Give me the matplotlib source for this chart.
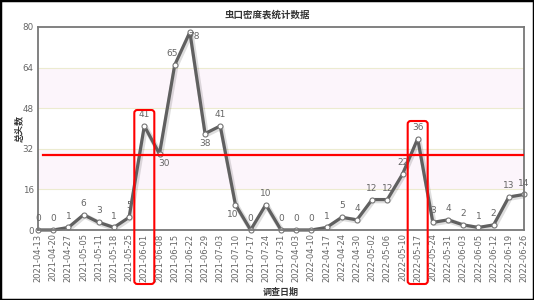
import matplotlib
matplotlib.use("Agg")
import matplotlib.pyplot as plt
import matplotlib.transforms as mtransforms
from matplotlib.patches import FancyBboxPatch, Rectangle

plt.rcParams['font.family'] = ['DejaVu Sans', 'Noto Sans CJK SC']

dates = ["2021-04-13", "2021-04-20", "2021-04-27", "2021-05-05", "2021-05-11", "2021-05-18",
         "2021-05-25", "2021-06-01", "2021-06-08", "2021-06-15", "2021-06-22", "2021-06-29",
         "2021-07-03", "2021-07-10", "2021-07-17", "2021-07-24", "2021-07-31", "2022-04-03",
         "2022-04-10", "2022-04-17", "2022-04-24", "2022-04-30", "2022-05-02", "2022-05-06",
         "2022-05-10", "2022-05-17", "2022-05-24", "2022-05-31", "2022-06-03", "2022-06-05",
         "2022-06-12", "2022-06-19", "2022-06-26"]
values = [0, 0, 1, 6, 3, 1, 5, 41, 30, 65, 78, 38, 41, 10, 0, 10, 0, 0,
          0, 1, 5, 4, 12, 12, 22, 36, 3, 4, 2, 1, 2, 13, 14]
y_ticks = [0, 16, 32, 48, 64, 80]
threshold = 29.5
highlight_idx = [7, 25]

title = "虫口密度表统计数据"
y_label = "总头数"
x_label = "调查日期"

W, H = 534, 300
fig = plt.figure(figsize=(W / 100, H / 100), dpi=100)
ax = fig.add_axes([38 / W, 1 - 230 / H, (524 - 38) / W, (230 - 27) / H])

x = list(range(len(values)))
ax.set_xlim(0, len(values) - 1)
ax.set_ylim(0, 80)

# bands and grid
for lo, hi in [(16, 32), (48, 64)]:
    ax.axhspan(lo, hi, color='#fcf5fb', zorder=0, lw=0)
for t in y_ticks[1:-1]:
    ax.axhline(t, color='#ecebd0', lw=0.8, zorder=0.5)

# shadow
shadow_tr = ax.transData + mtransforms.ScaledTranslation(0.8 / 72, -0.8 / 72, fig.dpi_scale_trans)
ax.plot(x, values, color='#000000', alpha=0.13, lw=3.8, zorder=1,
        solid_joinstyle='round', transform=shadow_tr)
ax.plot(x, values, color='#606060', lw=2.3, zorder=2, solid_joinstyle='round',
        marker='o', markersize=3.6, markerfacecolor='white', markeredgecolor='#777777',
        markeredgewidth=0.8, clip_on=False)

# data labels
offsets = {8: (3, -9), 11: (0, -9), 13: (-2, -9), 10: (3, -5), 9: (-2, 5)}
for i, v in enumerate(values):
    dx, dy = offsets.get(i, (0, 5))
    va = 'bottom' if dy > 0 else 'top'
    ax.annotate(str(v), (i, v), xytext=(dx, dy if dy > 0 else dy + 5), textcoords='offset points',
                ha='center', va=va, fontsize=6.5, color='#666666', zorder=3,
                annotation_clip=False)

# threshold line
ax.plot([0.35, len(values) - 1], [threshold, threshold], color='#ff0000', lw=1.6, zorder=4)

ax.set_yticks(y_ticks)
ax.set_yticklabels([str(t) for t in y_ticks], fontsize=6.3, color='#666666')
ax.set_xticks(x)
ax.set_xticklabels(dates, rotation=90, fontsize=6.0, color='#666666')
ax.tick_params(axis='both', length=0, pad=2.5)
ax.tick_params(axis='y', pad=3)
for s in ax.spines.values():
    s.set_color('#777777')
    s.set_linewidth(1.3)

ax.set_ylabel(y_label, fontsize=6.5, fontweight='bold', color='#333333')
ax.yaxis.set_label_coords((25 - 38) / 486, 0.5)
fig.text(281 / W, 1 - 292 / H, x_label, ha='center', va='center', fontsize=6.5,
         fontweight='bold', color='#333333')
fig.text(0.5, 1 - 15 / H, title, ha='center', va='center', fontsize=6.8,
         fontweight='bold', color='#333333')

# highlight boxes (rounded, in pixel space)
for idx, top in zip(highlight_idx, [110, 121]):
    cx = ax.transData.transform((idx, 0))[0]
    half_w = 10
    bottom_px = 284
    box = FancyBboxPatch((cx - half_w, H - bottom_px), 2 * half_w, bottom_px - top,
                         boxstyle="round,pad=0,rounding_size=3",
                         transform=mtransforms.IdentityTransform(), fill=False,
                         edgecolor='#ff0000', lw=1.5, zorder=5)
    fig.add_artist(box)

# figure border
fig.add_artist(Rectangle((0, 0), 1, 1, transform=fig.transFigure, fill=False,
                         edgecolor='black', lw=2.5, clip_on=False))

fig.savefig("out.png", dpi=100)
